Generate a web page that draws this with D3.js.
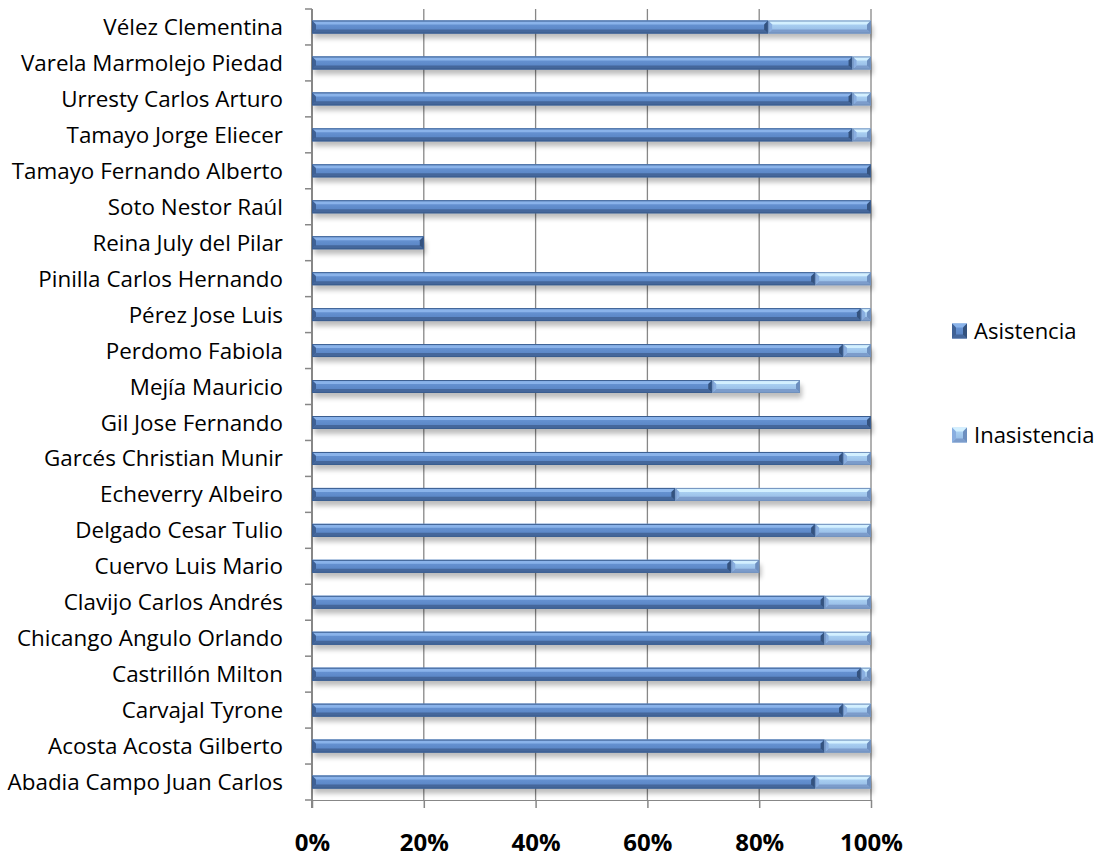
<!DOCTYPE html>
<html>
<head>
<meta charset="utf-8">
<script src="https://cdn.jsdelivr.net/npm/d3@7"></script>
<style>
  body { margin: 0; background: #fff; }
  svg { display: block; font-family: "Open Sans", sans-serif; }
</style>
</head>
<body>
<div id="container"></div>
<script>
/* DATA (top row first) */
const categories = [
  "Vélez Clementina", "Varela Marmolejo Piedad", "Urresty Carlos Arturo",
  "Tamayo Jorge Eliecer", "Tamayo Fernando Alberto", "Soto Nestor Raúl",
  "Reina July del Pilar", "Pinilla Carlos Hernando", "Pérez Jose Luis",
  "Perdomo Fabiola", "Mejía Mauricio", "Gil Jose Fernando",
  "Garcés Christian Munir", "Echeverry Albeiro", "Delgado Cesar Tulio",
  "Cuervo Luis Mario", "Clavijo Carlos Andrés", "Chicango Angulo Orlando",
  "Castrillón Milton", "Carvajal Tyrone", "Acosta Acosta Gilberto",
  "Abadia Campo Juan Carlos"
];
const asistencia = [81.6, 96.7, 96.7, 96.7, 100, 100, 20, 90, 98.2, 95, 71.6, 100,
                    95, 65, 90, 75, 91.7, 91.7, 98.2, 95, 91.7, 90];
const inasistencia = [18.4, 3.3, 3.3, 3.3, 0, 0, 0, 10, 1.8, 5, 15.7, 0,
                      5, 35, 10, 5, 8.3, 8.3, 1.8, 5, 8.3, 10];
const seriesNames = ["Asistencia", "Inasistencia"];
const xTicks = [0, 20, 40, 60, 80, 100];

/* LAYOUT */
const width = 1104, height = 857;
const margin = { top: 9, right: 233, bottom: 57, left: 312 };
const innerW = width - margin.left - margin.right;
const innerH = height - margin.top - margin.bottom;

// bevel colours per series
const palette = [
  { top: "#8ab3ea", faceA: "#6c99d9", faceB: "#5580bf", bottom: "#45679b", left: "#3f6195", right: "#34527e", edge: "#3a5d8f" },
  { top: "#d3f0ff", faceA: "#b4dbf8", faceB: "#90b5e2", bottom: "#7c9ccb", left: "#89aee0", right: "#6d8fbf", edge: "#7090bd" }
];

const svg = d3.select("#container")
  .append("svg")
  .attr("width", width)
  .attr("height", height);

const defs = svg.append("defs");
palette.forEach((p, i) => {
  const g = defs.append("linearGradient")
    .attr("id", "face" + i)
    .attr("x1", 0).attr("y1", 0).attr("x2", 0).attr("y2", 1);
  g.append("stop").attr("offset", "0%").attr("stop-color", p.faceA);
  g.append("stop").attr("offset", "100%").attr("stop-color", p.faceB);
});
const shadow = defs.append("filter").attr("id", "shadow")
  .attr("x", "-5%").attr("y", "-50%").attr("width", "110%").attr("height", "250%");
shadow.append("feGaussianBlur").attr("stdDeviation", 2.4);

const chart = svg.append("g")
  .attr("transform", `translate(${margin.left},${margin.top})`);

/* SCALES */
const xScale = d3.scaleLinear().domain([0, 100]).range([0, innerW]);
const yScale = d3.scaleBand()
  .domain(categories)
  .range([0, innerH])
  .paddingInner(0.64)
  .paddingOuter(0.32);

/* GRIDLINES + X AXIS */
const xAxis = chart.append("g")
  .attr("transform", `translate(0,${innerH})`)
  .call(d3.axisBottom(xScale).tickValues(xTicks).tickSize(8).tickFormat(d => d + "%"));
xAxis.select(".domain").attr("stroke", "#878787");
xAxis.selectAll(".tick line").attr("stroke", "#878787").attr("stroke-width", 1.5);
xAxis.selectAll(".tick text")
  .attr("y", 34)
  .attr("fill", "#000")
  .style("font-size", "24px")
  .style("font-weight", "bold")
  .style("font-family", "'Open Sans', sans-serif");

chart.append("g")
  .selectAll("line")
  .data(xTicks.filter(d => d > 0))
  .join("line")
  .attr("x1", d => xScale(d)).attr("x2", d => xScale(d))
  .attr("y1", 0).attr("y2", innerH)
  .attr("stroke", "#878787")
  .attr("stroke-width", 1.3);

/* Y AXIS (ticks between categories) */
const step = yScale.step();
chart.append("line")
  .attr("x1", 0).attr("x2", 0).attr("y1", 0).attr("y2", innerH + 8)
  .attr("stroke", "#878787")
  .attr("stroke-width", 2);
chart.append("g")
  .selectAll("line")
  .data(d3.range(categories.length + 1))
  .join("line")
  .attr("x1", -7).attr("x2", 0)
  .attr("y1", i => i * step).attr("y2", i => i * step)
  .attr("stroke", "#878787")
  .attr("stroke-width", 1.5);

chart.append("g")
  .selectAll("text")
  .data(categories)
  .join("text")
  .attr("x", -29)
  .attr("y", d => yScale(d) + yScale.bandwidth() / 2)
  .attr("dy", "0.36em")
  .attr("text-anchor", "end")
  .style("font-size", "22.4px")
  .attr("fill", "#000")
  .text(d => d);

/* BARS */
const rows = categories.map((c, i) => ({
  name: c,
  segs: [
    { s: 0, x0: 0, x1: asistencia[i] },
    { s: 1, x0: asistencia[i], x1: asistencia[i] + inasistencia[i] }
  ].filter(d => d.x1 > d.x0)
}));

const bh = yScale.bandwidth();
const b = 4;

// shadows
chart.append("g")
  .selectAll("rect")
  .data(rows)
  .join("rect")
  .attr("x", d => xScale(0) + 2)
  .attr("y", d => yScale(d.name) + 5)
  .attr("width", d => xScale(d3.max(d.segs, s => s.x1)) - xScale(0))
  .attr("height", bh)
  .attr("fill", "#000")
  .attr("opacity", 0.26)
  .attr("filter", "url(#shadow)");

const seg = chart.append("g")
  .selectAll("g")
  .data(rows.flatMap(r => r.segs.map(s => ({ ...s, name: r.name }))))
  .join("g");

seg.each(function (d) {
  const g = d3.select(this);
  const p = palette[d.s];
  const x0 = xScale(d.x0), x1 = xScale(d.x1);
  const y0 = yScale(d.name), y1 = y0 + bh;
  const bb = Math.min(b, (x1 - x0) / 2);
  g.append("rect")
    .attr("x", x0).attr("y", y0)
    .attr("width", x1 - x0).attr("height", bh)
    .attr("fill", `url(#face${d.s})`);
  const poly = (pts, fill) => g.append("polygon")
    .attr("points", pts.map(q => q.join(",")).join(" "))
    .attr("fill", fill);
  poly([[x0, y0], [x1, y0], [x1 - bb, y0 + b], [x0 + bb, y0 + b]], p.top);
  poly([[x0, y1], [x1, y1], [x1 - bb, y1 - b], [x0 + bb, y1 - b]], p.bottom);
  poly([[x0, y0], [x0 + bb, y0 + b], [x0 + bb, y1 - b], [x0, y1]], p.left);
  poly([[x1, y0], [x1 - bb, y0 + b], [x1 - bb, y1 - b], [x1, y1]], p.right);
  g.append("rect")
    .attr("x", x0 + 0.5).attr("y", y0 + 0.5)
    .attr("width", x1 - x0 - 1).attr("height", bh - 1)
    .attr("fill", "none")
    .attr("stroke", p.edge)
    .attr("stroke-width", 1);
});

/* LEGEND */
const legend = svg.append("g")
  .selectAll("g")
  .data(seriesNames)
  .join("g")
  .attr("transform", (d, i) => `translate(952,${331 + i * 104})`);

legend.each(function (d, i) {
  const g = d3.select(this);
  const p = palette[i];
  const s = 15, lb = 4;
  g.append("rect").attr("x", 0).attr("y", -s / 2).attr("width", s).attr("height", s)
    .attr("fill", `url(#face${i})`);
  const poly = (pts, fill) => g.append("polygon")
    .attr("points", pts.map(q => q.join(",")).join(" "))
    .attr("fill", fill);
  const t = -s / 2, bt = s / 2;
  poly([[0, t], [s, t], [s - lb, t + lb], [lb, t + lb]], p.top);
  poly([[0, bt], [s, bt], [s - lb, bt - lb], [lb, bt - lb]], p.bottom);
  poly([[0, t], [lb, t + lb], [lb, bt - lb], [0, bt]], p.left);
  poly([[s, t], [s - lb, t + lb], [s - lb, bt - lb], [s, bt]], p.right);
  g.append("text")
    .attr("x", 22)
    .attr("dy", "0.36em")
    .style("font-size", "22px")
    .attr("fill", "#000")
    .text(d);
});
</script>
</body>
</html>
